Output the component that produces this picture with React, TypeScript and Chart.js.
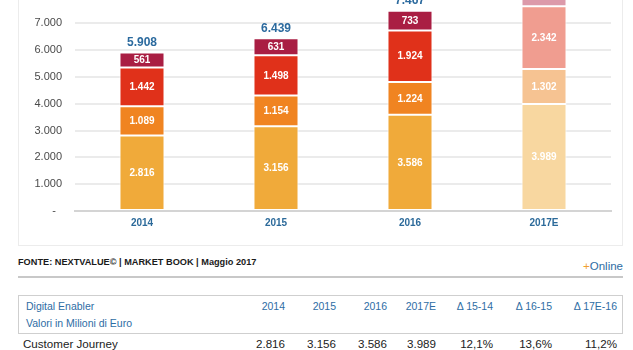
import React, { useEffect, useRef } from 'react';
import { Chart, registerables } from 'chart.js';

Chart.register(...registerables);

const FONT = '"Liberation Sans", Arial, Helvetica, sans-serif';

const categories = ['2014', '2015', '2016', '2017E'];
const customerJourney = [2816, 3156, 3586, 3989];
const series2 = [1089, 1154, 1224, 1302];
const series3 = [1442, 1498, 1924, 2342];
const series4 = [561, 631, 733, 830];

const yTicks = { min: 0, max: 9000, step: 1000 };

const tableHeaders = ['2014', '2015', '2016', '2017E', 'Δ 15-14', 'Δ 16-15', 'Δ 17E-16'];
const tableRowLabel = 'Customer Journey';
const tableRow = ['2.816', '3.156', '3.586', '3.989', '12,1%', '13,6%', '11,2%'];

const colRight = [285, 336, 387, 436, 493, 552, 617];

const fmt = (v: number) => String(Math.round(v)).replace(/\B(?=(\d{3})+(?!\d))/g, '.');

const solid = ['#F0AA3A', '#F08421', '#E0311A', '#A91E43'];
const light = ['#F8D7A0', '#F6C392', '#F09D90', '#DC9AAA'];

const labelPlugin = {
  id: 'segLabels',
  afterDatasetsDraw(chart: any) {
    const ctx = chart.ctx;
    ctx.save();
    ctx.textAlign = 'center';
    ctx.textBaseline = 'middle';
    ctx.font = `bold 10px ${FONT}`;
    ctx.fillStyle = '#ffffff';
    chart.data.datasets.forEach((ds: any, i: number) => {
      const meta = chart.getDatasetMeta(i);
      meta.data.forEach((bar: any, j: number) => {
        const { x, y, base } = bar.getProps(['x', 'y', 'base'], true);
        ctx.fillText(fmt(ds.data[j]), x, (y + base) / 2 + 0.5);
      });
    });
    ctx.font = `bold 12px ${FONT}`;
    ctx.fillStyle = '#2B6A9E';
    const last = chart.data.datasets.length - 1;
    chart.data.labels.forEach((_: any, j: number) => {
      let sum = 0;
      chart.data.datasets.forEach((ds: any) => (sum += ds.data[j]));
      const top = chart.getDatasetMeta(last).data[j];
      ctx.fillText(fmt(sum), top.x, top.y - 10);
    });
    ctx.restore();
  },
};

export default function App() {
  const ref = useRef<HTMLCanvasElement | null>(null);

  useEffect(() => {
    if (!ref.current) return;
    const mk = (label: string, data: number[], idx: number) => ({
      label,
      data,
      backgroundColor: data.map((_, j) => (categories[j].endsWith('E') ? light[idx] : solid[idx])),
      borderColor: '#ffffff',
      borderWidth: 1,
      borderSkipped: false,
      categoryPercentage: 0.336,
      barPercentage: 1,
    });
    const chart = new Chart(ref.current, {
      type: 'bar',
      data: {
        labels: categories,
        datasets: [
          mk('Customer Journey', customerJourney, 0),
          mk('Serie 2', series2, 1),
          mk('Serie 3', series3, 2),
          mk('Serie 4', series4, 3),
        ],
      },
      options: {
        animation: false,
        responsive: true,
        maintainAspectRatio: false,
        layout: { padding: { top: 8, right: 22, left: 0, bottom: 0 } },
        plugins: { legend: { display: false }, tooltip: { enabled: false } },
        scales: {
          x: {
            stacked: true,
            grid: { display: false, drawTicks: false },
            border: { display: true, color: '#d4d4d4', width: 2 },
            ticks: { padding: 6, color: '#2C6A9A', font: { family: FONT, size: 10, weight: 'bold' } },
            afterFit: (s: any) => {
              s.height = 30;
            },
          },
          y: {
            stacked: true,
            min: yTicks.min,
            max: yTicks.max,
            grid: { color: '#ebebeb', lineWidth: 2, drawTicks: false },
            border: { display: false },
            ticks: {
              stepSize: yTicks.step,
              padding: 13,
              color: '#4a4a4a',
              font: { family: FONT, size: 11 },
              callback: (v: any) => (Number(v) === 0 ? '-  ' : fmt(Number(v))),
            },
            afterFit: (s: any) => {
              s.width = 75;
            },
          },
        },
      } as any,
      plugins: [labelPlugin],
    });
    return () => chart.destroy();
  }, []);

  const blue = '#2E6DA4';

  return (
    <div
      style={{
        position: 'fixed',
        left: 0,
        top: 0,
        width: 633,
        height: 350,
        overflow: 'hidden',
        background: '#fff',
        fontFamily: FONT,
      }}
    >
      <div
        style={{
          position: 'absolute',
          left: 18,
          top: -10,
          width: 603,
          height: 254,
          border: '1px solid #ececec',
        }}
      />
      <div style={{ position: 'absolute', left: 0, top: -50, width: 633, height: 291 }}>
        <canvas ref={ref} />
      </div>
      <div
        style={{
          position: 'absolute',
          left: 18,
          top: 256,
          fontSize: 9.2,
          lineHeight: '12px',
          fontWeight: 'bold',
          color: '#1a1a1a',
          whiteSpace: 'nowrap',
        }}
      >
        FONTE: NEXTVALUE© | MARKET BOOK | Maggio 2017
      </div>
      <div
        style={{
          position: 'absolute',
          right: 10,
          top: 260,
          fontSize: 11.5,
          lineHeight: '12px',
          color: blue,
          whiteSpace: 'nowrap',
        }}
      >
        <span style={{ color: '#F0A030' }}>+</span>Online
      </div>
      <div style={{ position: 'absolute', left: 18, top: 276, width: 605, height: 2, background: '#c8c8c8' }} />
      <div
        style={{
          position: 'absolute',
          left: 18,
          top: 295,
          width: 603,
          height: 37,
          border: '1px solid #cfcfcf',
        }}
      />
      <div style={{ position: 'absolute', left: 26, top: 299, fontSize: 10.5, lineHeight: '14px', color: blue, whiteSpace: 'nowrap' }}>
        Digital Enabler
      </div>
      <div style={{ position: 'absolute', left: 26, top: 316, fontSize: 10.5, lineHeight: '14px', color: blue, whiteSpace: 'nowrap' }}>
        Valori in Milioni di Euro
      </div>
      {tableHeaders.map((h, i) => (
        <div
          key={'h' + i}
          style={{
            position: 'absolute',
            right: 633 - colRight[i],
            top: 299,
            fontSize: 10.5,
            lineHeight: '14px',
            color: blue,
            textAlign: 'right',
            whiteSpace: 'nowrap',
          }}
        >
          {h}
        </div>
      ))}
      <div style={{ position: 'absolute', left: 23, top: 337, fontSize: 11.6, lineHeight: '14px', color: '#222', whiteSpace: 'nowrap' }}>
        {tableRowLabel}
      </div>
      {tableRow.map((v, i) => (
        <div
          key={'r' + i}
          style={{
            position: 'absolute',
            right: 633 - colRight[i],
            top: 337,
            fontSize: 11.6,
            lineHeight: '14px',
            color: '#222',
            textAlign: 'right',
            whiteSpace: 'nowrap',
          }}
        >
          {v}
        </div>
      ))}
    </div>
  );
}
